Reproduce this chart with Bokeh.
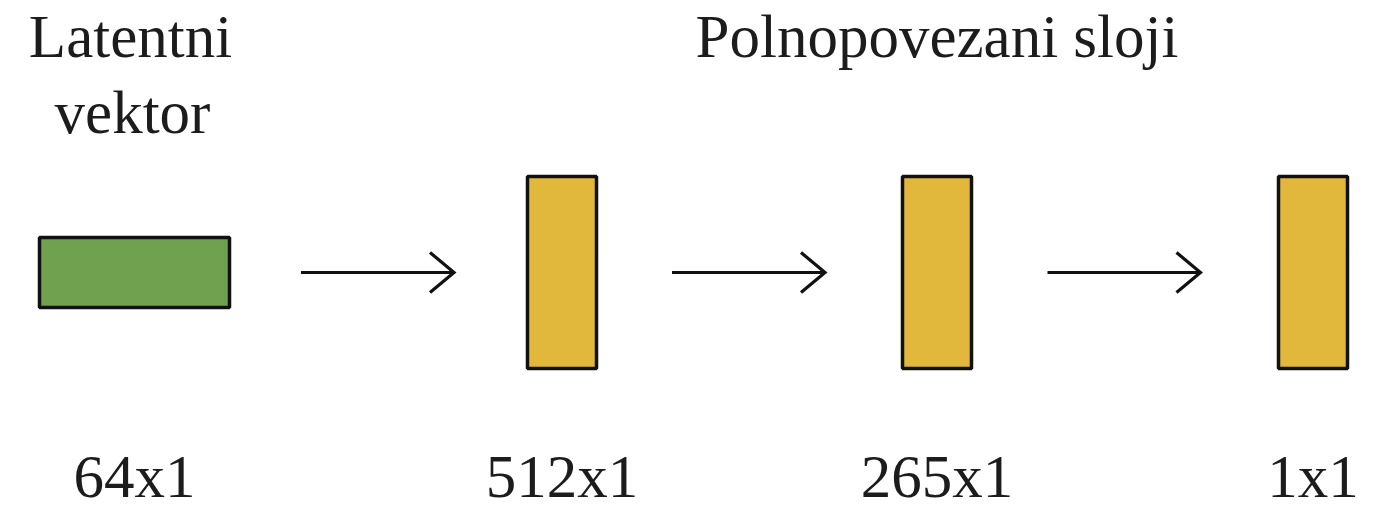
from bokeh.plotting import figure
from bokeh.models import Range1d, ColumnDataSource
from bokeh.core.properties import value
from bokeh.embed import file_html
from bokeh.resources import INLINE

# ---- data ----
layer_labels = ["64x1", "512x1", "265x1", "1x1"]
layer_kinds = ["latent", "dense", "dense", "dense"]
header_left = ["Latentni", "vektor"]
header_right = "Polnopovezani sloji"

# ---- layout / style ----
W, H = 1359, 513
FONT = "Liberation Serif"
FS = "61px"
TXT = "#1c1c1c"
BASE_SHIFT = 21  # compensates renderer's baseline placement
kind_style = {
    "latent": dict(w=190, h=70, color="#6FA14E"),
    "dense": dict(w=69, h=192, color="#E1B83B"),
}
centers_x = [142, 569.5, 944.5, 1320.5]
cy = 281
arrow_len = 153
top_base, second_base, bottom_base = 66, 142, 506

p = figure(width=W, height=H, x_range=Range1d(8, 8 + W), y_range=Range1d(9 + H, 9),
           output_backend="svg", toolbar_location=None, min_border=0,
           x_axis_type=None, y_axis_type=None)
p.grid.visible = False
p.outline_line_color = None
p.background_fill_color = "white"

ws = [kind_style[k]["w"] for k in layer_kinds]
hs = [kind_style[k]["h"] for k in layer_kinds]
cols = [kind_style[k]["color"] for k in layer_kinds]
src = ColumnDataSource(dict(x=centers_x, y=[cy] * len(centers_x),
                            ly=[bottom_base - BASE_SHIFT] * len(centers_x),
                            w=ws, h=hs, c=cols, lab=layer_labels))
p.rect(x="x", y="y", width="w", height="h", fill_color="c", line_color="#111111",
       line_width=3.5, source=src)

# arrows
x0s, x1s, hx, hy = [], [], [], []
for i in range(len(centers_x) - 1):
    right = centers_x[i] + ws[i] / 2
    left = centers_x[i + 1] - ws[i + 1] / 2
    mid = (right + left) / 2 - 1
    a, b = mid - arrow_len / 2, mid + arrow_len / 2
    x0s.append(a); x1s.append(b)
    hx.append([b - 24, b, b - 24]); hy.append([cy - 20, cy, cy + 20])
p.segment(x0=x0s, y0=[cy] * len(x0s), x1=x1s, y1=[cy] * len(x0s), line_color="#111111", line_width=3.2)
p.multi_line(xs=hx, ys=hy, line_color="#111111", line_width=3.2, line_join="miter")

# texts
p.text(x="x", y="ly", text="lab", source=src, text_font=value(FONT),
       text_font_size=FS, text_align="center", text_baseline="alphabetic", text_color=TXT)
p.text(x=[138, 140], y=[top_base - BASE_SHIFT, second_base - BASE_SHIFT], text=header_left,
       text_font=value(FONT), text_font_size=FS, text_align="center",
       text_baseline="alphabetic", text_color=TXT)
p.text(x=[centers_x[2]], y=[top_base - BASE_SHIFT], text=[header_right], text_font=value(FONT),
       text_font_size=FS, text_align="center", text_baseline="alphabetic", text_color=TXT)

open("out.html", "w").write(file_html(p, INLINE))
